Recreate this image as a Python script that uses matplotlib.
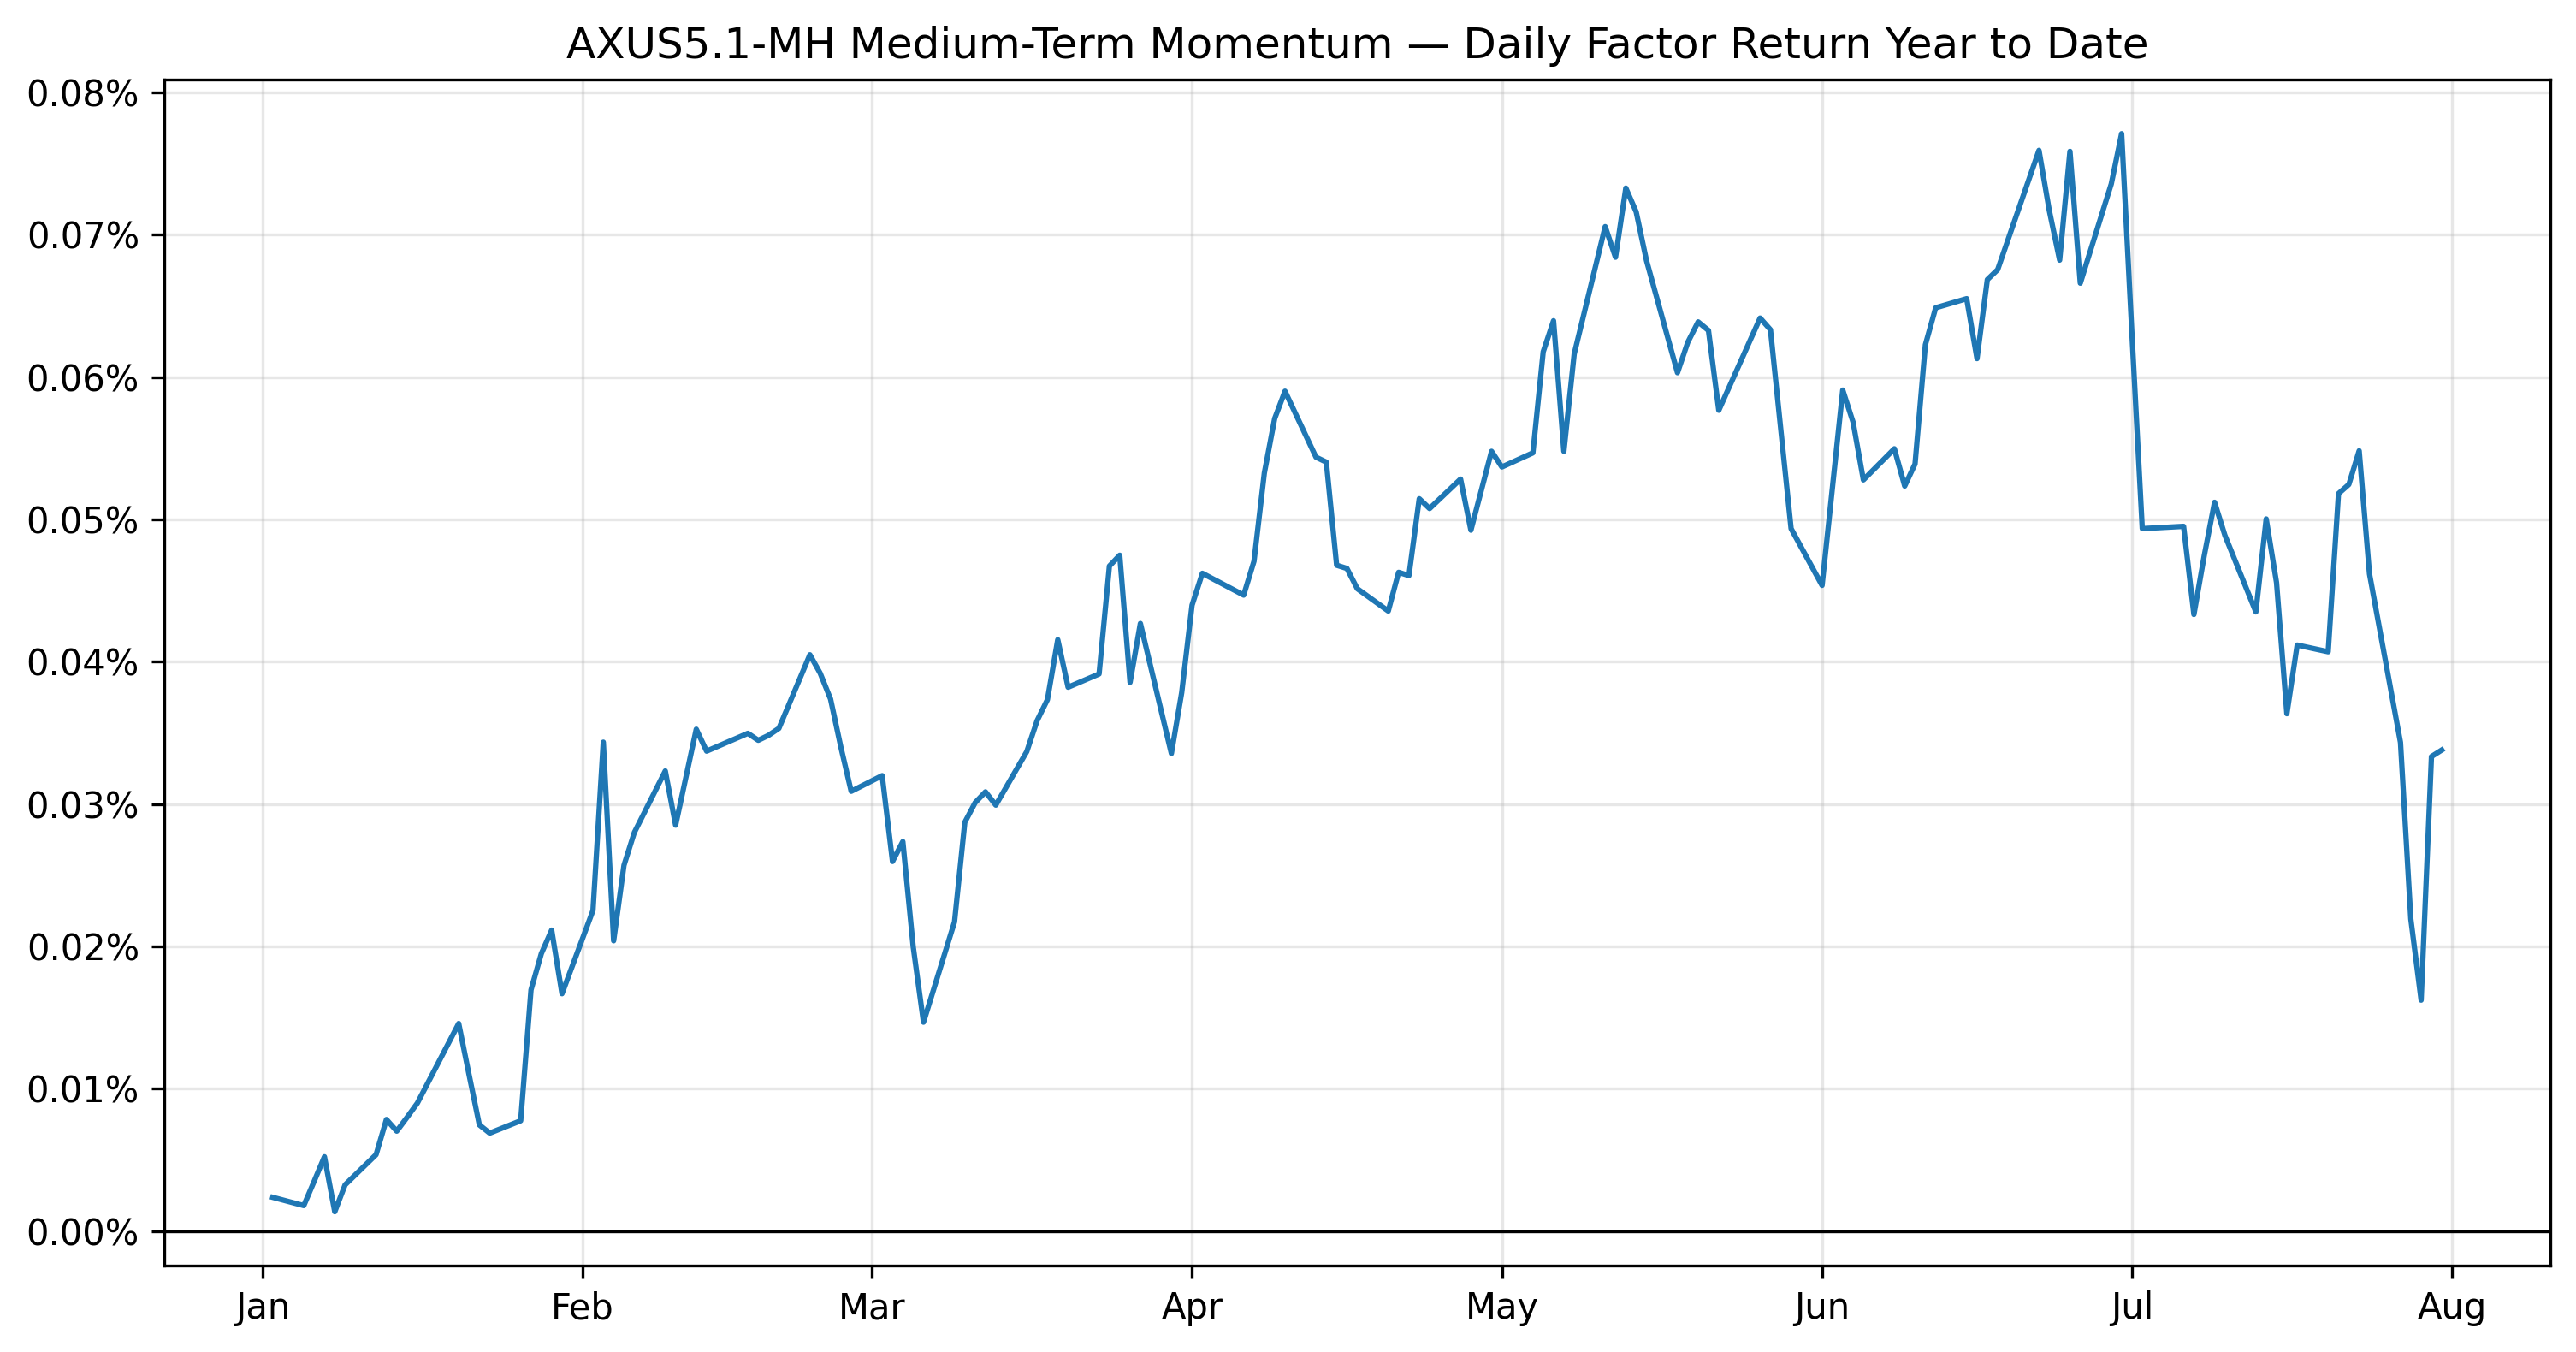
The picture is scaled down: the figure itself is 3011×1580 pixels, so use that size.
import matplotlib
matplotlib.use("Agg")
import matplotlib.pyplot as plt
import matplotlib.dates as mdates
from matplotlib.ticker import FuncFormatter, MultipleLocator
import pandas as pd

# trading days (2026) and the daily factor return, in percent
dates = [
    "2026-01-02", "2026-01-05", "2026-01-06", "2026-01-07", "2026-01-08", "2026-01-09",
    "2026-01-12", "2026-01-13", "2026-01-14", "2026-01-15", "2026-01-16",
    "2026-01-20", "2026-01-21", "2026-01-22", "2026-01-23",
    "2026-01-26", "2026-01-27", "2026-01-28", "2026-01-29", "2026-01-30",
    "2026-02-02", "2026-02-03", "2026-02-04", "2026-02-05", "2026-02-06",
    "2026-02-09", "2026-02-10", "2026-02-11", "2026-02-12", "2026-02-13",
    "2026-02-17", "2026-02-18", "2026-02-19", "2026-02-20",
    "2026-02-23", "2026-02-24", "2026-02-25", "2026-02-26", "2026-02-27",
    "2026-03-02", "2026-03-03", "2026-03-04", "2026-03-05", "2026-03-06",
    "2026-03-09", "2026-03-10", "2026-03-11", "2026-03-12", "2026-03-13",
    "2026-03-16", "2026-03-17", "2026-03-18", "2026-03-19", "2026-03-20",
    "2026-03-23", "2026-03-24", "2026-03-25", "2026-03-26", "2026-03-27",
    "2026-03-30", "2026-03-31", "2026-04-01", "2026-04-02",
    "2026-04-06", "2026-04-07", "2026-04-08", "2026-04-09", "2026-04-10",
    "2026-04-13", "2026-04-14", "2026-04-15", "2026-04-16", "2026-04-17",
    "2026-04-20", "2026-04-21", "2026-04-22", "2026-04-23", "2026-04-24",
    "2026-04-27", "2026-04-28", "2026-04-29", "2026-04-30", "2026-05-01",
    "2026-05-04", "2026-05-05", "2026-05-06", "2026-05-07", "2026-05-08",
    "2026-05-11", "2026-05-12", "2026-05-13", "2026-05-14", "2026-05-15",
    "2026-05-18", "2026-05-19", "2026-05-20", "2026-05-21", "2026-05-22",
    "2026-05-26", "2026-05-27", "2026-05-28", "2026-05-29",
    "2026-06-01", "2026-06-02", "2026-06-03", "2026-06-04", "2026-06-05",
    "2026-06-08", "2026-06-09", "2026-06-10", "2026-06-11", "2026-06-12",
    "2026-06-15", "2026-06-16", "2026-06-17", "2026-06-18",
    "2026-06-22", "2026-06-23", "2026-06-24", "2026-06-25", "2026-06-26",
    "2026-06-29", "2026-06-30", "2026-07-01", "2026-07-02",
    "2026-07-06", "2026-07-07", "2026-07-08", "2026-07-09", "2026-07-10",
    "2026-07-13", "2026-07-14", "2026-07-15", "2026-07-16", "2026-07-17",
    "2026-07-20", "2026-07-21", "2026-07-22", "2026-07-23", "2026-07-24",
    "2026-07-27", "2026-07-28", "2026-07-29", "2026-07-30", "2026-07-31",
]

factor_return = [
    0.00238, 0.00180, 0.00350, 0.00523, 0.00137, 0.00326,
    0.00538, 0.00785, 0.00703, 0.00800, 0.00900,
    0.01459, 0.01100, 0.00747, 0.00689,
    0.00776, 0.01695, 0.01950, 0.02115, 0.01668,
    0.02253, 0.03435, 0.02040, 0.02570, 0.02800,
    0.03233, 0.02852, 0.03190, 0.03526, 0.03372,
    0.03497, 0.03448, 0.03483, 0.03532,
    0.04049, 0.03919, 0.03738, 0.03400, 0.03090,
    0.03200, 0.02597, 0.02737, 0.02000, 0.01468,
    0.02172, 0.02872, 0.03010, 0.03086, 0.02993,
    0.03369, 0.03586, 0.03734, 0.04155, 0.03821,
    0.03914, 0.04672, 0.04748, 0.03855, 0.04269,
    0.03355, 0.03783, 0.04397, 0.04621,
    0.04468, 0.04706, 0.05325, 0.05708, 0.05900,
    0.05437, 0.05402, 0.04678, 0.04655, 0.04513,
    0.04356, 0.04628, 0.04605, 0.05145, 0.05076,
    0.05283, 0.04924, 0.05200, 0.05478, 0.05368,
    0.05467, 0.06177, 0.06395, 0.05478, 0.06161,
    0.07056, 0.06841, 0.07327, 0.07160, 0.06818,
    0.06030, 0.06244, 0.06387, 0.06327, 0.05766,
    0.06414, 0.06332, 0.05633, 0.04935,
    0.04536, 0.05220, 0.05908, 0.05683, 0.05277,
    0.05496, 0.05234, 0.05389, 0.06226, 0.06486,
    0.06550, 0.06129, 0.06684, 0.06754,
    0.07592, 0.07169, 0.06821, 0.07585, 0.06659,
    0.07356, 0.07709, 0.06300, 0.04935,
    0.04951, 0.04332, 0.04745, 0.05120, 0.04888,
    0.04350, 0.05003, 0.04556, 0.03635, 0.04117,
    0.04070, 0.05181, 0.05245, 0.05482, 0.04617,
    0.03433, 0.02193, 0.01623, 0.03334, 0.03380,
]

title = "AXUS5.1-MH Medium-Term Momentum \u2014 Daily Factor Return Year to Date"

x = pd.to_datetime(dates)

fig = plt.figure(figsize=(3011 / 300, 1580 / 300), dpi=300)
ax = fig.add_axes([0.0638, 0.0639, 0.990 - 0.0638, 0.941 - 0.0639])

ax.plot(x, factor_return, color="#1f77b4", linewidth=1.5)
ax.axhline(0, color="black", linewidth=0.8)

ax.set_title(title)
ax.grid(True, alpha=0.3)

ax.xaxis.set_major_locator(mdates.MonthLocator())
ax.xaxis.set_major_formatter(mdates.DateFormatter("%b"))
ax.yaxis.set_major_locator(MultipleLocator(0.01))
ax.yaxis.set_major_formatter(FuncFormatter(lambda v, _: f"{v:.2f}%"))

fig.savefig("out.png", dpi=300)
